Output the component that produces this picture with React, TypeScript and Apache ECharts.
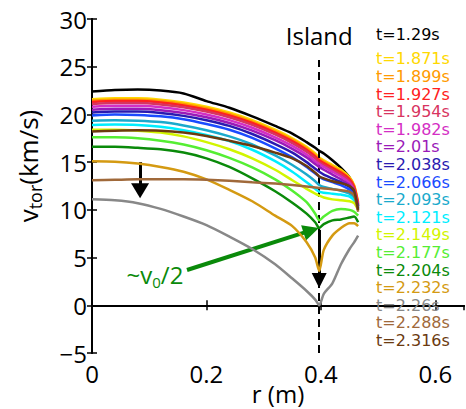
import React, { useEffect, useRef } from 'react';
import * as echarts from 'echarts';

const R = [0, 0.04, 0.08, 0.12, 0.16, 0.2, 0.24, 0.28, 0.32, 0.35, 0.375, 0.39, 0.397, 0.405, 0.42, 0.435, 0.45, 0.458, 0.465];

const times = ['t=1.29s', 't=1.871s', 't=1.899s', 't=1.927s', 't=1.954s', 't=1.982s', 't=2.01s', 't=2.038s', 't=2.066s', 't=2.093s', 't=2.121s', 't=2.149s', 't=2.177s', 't=2.204s', 't=2.232s', 't=2.26s', 't=2.288s', 't=2.316s'];
const colors = ['#000000', '#FFD800', '#FF9A00', '#FF2020', '#D8345F', '#D42EC4', '#9A1AB8', '#2A1AB0', '#1A4BFF', '#1AAACC', '#00EEFF', '#D2F500', '#55EE33', '#0A8A0A', '#D49A12', '#888888', '#A0693A', '#6B3A0F'];

const v1290 = [22.4, 22.55, 22.6, 22.5, 22.2, 21.4, 20.7, 19.8, 18.8, 18.0, 17.1, 16.5, 16.2, 15.9, 15.2, 14.4, 13.4, 12.3, 10.4];
const v1871 = [21.6, 21.7, 21.7, 21.55, 21.25, 20.8, 20.2, 19.4, 18.4, 17.5, 16.6, 15.9, 15.5, 15.2, 14.7, 14.2, 13.4, 12.6, 10.8];
const v1899 = [21.45, 21.55, 21.55, 21.4, 21.1, 20.65, 20.05, 19.25, 18.25, 17.35, 16.45, 15.75, 15.35, 15.05, 14.55, 14.05, 13.3, 12.5, 10.7];
const v1927 = [21.3, 21.4, 21.4, 21.25, 20.95, 20.5, 19.9, 19.1, 18.1, 17.2, 16.3, 15.6, 15.2, 14.9, 14.4, 13.9, 13.2, 12.4, 10.6];
const v1954 = [21.1, 21.2, 21.2, 21.05, 20.75, 20.3, 19.7, 18.9, 17.9, 17.0, 16.1, 15.4, 15.0, 14.7, 14.2, 13.7, 13.0, 12.2, 10.5];
const v1982 = [20.8, 20.9, 20.9, 20.75, 20.45, 20.0, 19.4, 18.6, 17.6, 16.7, 15.8, 15.1, 14.8, 14.5, 14.0, 13.5, 12.8, 12.0, 10.4];
const v2010 = [20.5, 20.6, 20.6, 20.45, 20.15, 19.7, 19.1, 18.3, 17.3, 16.4, 15.5, 14.8, 14.5, 14.2, 13.7, 13.2, 12.6, 11.9, 10.3];
const v2038 = [20.2, 20.3, 20.3, 20.15, 19.85, 19.4, 18.8, 17.95, 16.9, 16.0, 15.0, 14.3, 14.0, 13.7, 13.3, 12.9, 12.4, 11.7, 10.2];
const v2066 = [19.9, 20.0, 19.95, 19.8, 19.5, 19.0, 18.4, 17.55, 16.45, 15.5, 14.5, 13.8, 13.5, 13.2, 12.9, 12.6, 12.1, 11.5, 10.2];
const v2093 = [19.35, 19.4, 19.35, 19.2, 18.85, 18.35, 17.7, 16.85, 15.7, 14.7, 13.7, 13.0, 12.6, 12.4, 12.2, 12.0, 11.7, 11.2, 10.1];
const v2121 = [18.9, 18.95, 18.9, 18.7, 18.35, 17.85, 17.2, 16.3, 15.1, 14.0, 12.9, 12.2, 11.9, 11.8, 11.7, 11.6, 11.4, 11.0, 10.1];
const v2149 = [18.4, 18.4, 18.3, 18.1, 17.7, 17.1, 16.35, 15.4, 14.2, 13.1, 12.2, 11.7, 11.5, 11.3, 11.1, 11.0, 10.9, 10.7, 10.0];
const v2177 = [17.6, 17.6, 17.5, 17.25, 16.85, 16.25, 15.45, 14.45, 13.2, 12.0, 10.8, 9.6, 8.9, 9.3, 9.9, 10.1, 10.0, 9.8, 9.4];
const v2204 = [16.6, 16.6, 16.5, 16.35, 16.0, 15.4, 14.5, 13.3, 11.95, 10.75, 9.6, 8.7, 8.1, 8.5, 8.9, 9.0, 9.2, 9.3, 8.7];
const v2232 = [15.1, 15.05, 14.85, 14.5, 14.0, 13.2, 12.1, 10.9, 9.4, 8.3, 6.6, 5.0, 3.6, 5.8, 7.3, 8.1, 8.6, 8.6, 8.3];
const v2260 = [11.1, 11.0, 10.7, 10.1, 9.3, 8.4, 7.2, 5.9, 4.3, 2.8, 1.5, 0.6, 0.0, 1.2, 2.3, 4.3, 5.9, 6.6, 7.3];
const v2288 = [13.1, 13.15, 13.2, 13.2, 13.2, 13.15, 13.05, 12.9, 12.75, 12.6, 12.45, 12.35, 12.3, 12.25, 12.15, 12.05, 11.9, 11.5, 9.8];
const v2316 = [18.2, 18.3, 18.35, 18.3, 18.1, 17.75, 17.25, 16.7, 16.0, 15.4, 14.6, 13.9, 13.5, 13.3, 13.0, 12.8, 12.5, 12.0, 10.0];

const profiles = [v1290, v1871, v1899, v1927, v1954, v1982, v2010, v2038, v2066, v2093, v2121, v2149, v2177, v2204, v2232, v2260, v2288, v2316];

const islandR = 0.397;
const yTicks = [-5, 0, 5, 10, 15, 20, 25, 30];
const xTicks = [0, 0.2, 0.4, 0.6];

const FONT = 'Open Sans';
const LEGEND_FONT = 'DejaVu Sans';

export default function App() {
  const ref = useRef<HTMLDivElement>(null);
  useEffect(() => {
    if (!ref.current) return;
    const chart = echarts.init(ref.current, null, { renderer: 'svg' });
    const series: any[] = profiles.map((vals, i) => ({
      name: times[i],
      type: 'line',
      data: R.map((r, j) => [r, vals[j]]),
      showSymbol: false,
      smooth: 0.25,
      lineStyle: { color: colors[i], width: 2.5 },
      itemStyle: { color: colors[i] },
      z: 2 + i,
    }));
    series.push({
      name: 'annot',
      type: 'line',
      data: [],
      z: 40,
      markLine: {
        silent: true,
        animation: false,
        label: { show: false },
        symbol: ['none', 'none'],
        data: [
          [{ coord: [islandR, -5], lineStyle: { color: '#000', width: 2, type: [8, 5] } }, { coord: [islandR, 25.7] }],
          [{ coord: [0, 0], lineStyle: { color: '#000', width: 2, type: 'solid' } }, { coord: [0.465, 0] }],
          [
            { coord: [0.084, 15.0], symbol: 'none', lineStyle: { color: '#000', width: 3, type: 'solid' } },
            { coord: [0.084, 12.0], symbol: 'triangle', symbolSize: [18, 15] },
          ],
          [
            { coord: [islandR, 7.9], symbol: 'none', lineStyle: { color: '#000', width: 3, type: 'solid' } },
            { coord: [islandR, 2.6], symbol: 'triangle', symbolSize: [15, 15] },
          ],
          [
            { coord: [0.166, 3.7], symbol: 'none', lineStyle: { color: '#0A8A0A', width: 4, type: 'solid' } },
            { coord: [0.383, 7.85], symbol: 'triangle', symbolSize: [16, 16], itemStyle: { color: '#0A8A0A' } },
          ],
        ],
      },
      markPoint: {
        silent: true,
        animation: false,
        symbolSize: 0,
        data: [
          {
            coord: [islandR, 28.3],
            label: { show: true, position: 'inside', formatter: 'Island', color: '#000', fontSize: 24, fontFamily: FONT },
          },
          {
            coord: [0.11, 3.2],
            label: {
              show: true,
              position: 'inside',
              formatter: '{a|~v}{b|0}{a|/2}',
              rich: {
                a: { color: '#0A8A0A', fontSize: 24, fontFamily: FONT, lineHeight: 30 },
                b: { color: '#0A8A0A', fontSize: 15, fontFamily: FONT, lineHeight: 18, verticalAlign: 'bottom' },
              },
            },
          },
        ],
      },
    });

    const legendRest = times.slice(1).map((t, i) => ({ name: t, textStyle: { color: colors[i + 1] } }));
    const legendCommon = {
      left: 371, orient: 'vertical', itemWidth: 0, itemHeight: 0, itemGap: 0, padding: 0,
      selectedMode: false, icon: 'rect',
      itemStyle: { opacity: 0 }, lineStyle: { opacity: 0, width: 0 },
      textStyle: { fontSize: 16, fontFamily: LEGEND_FONT, lineHeight: 17.6 },
    };

    chart.setOption({
      animation: false,
      backgroundColor: '#fff',
      grid: { left: 92, top: 19, right: 2, bottom: 56, containLabel: false, outerBoundsMode: 'none' },
      legend: [
        { ...legendCommon, top: 26, data: [{ name: times[0], textStyle: { color: colors[0] } }] },
        { ...legendCommon, top: 50, data: legendRest },
      ],
      xAxis: [
        {
          type: 'value', min: 0, max: 0.65, interval: 0.2, position: 'bottom',
          name: 'r (m)', nameLocation: 'middle', nameGap: 28, nameMoveOverlap: false,
          nameTextStyle: { color: '#000', fontSize: 24, fontFamily: FONT },
          axisLine: { show: true, lineStyle: { color: '#000', width: 2 } },
          axisTick: { show: true, inside: true, length: 5, lineStyle: { color: '#000', width: 1.5 } },
          axisLabel: {
            color: '#000', fontSize: 24, fontFamily: FONT, margin: 8, showMaxLabel: false,
            formatter: (v: number) => (xTicks.some((t) => Math.abs(t - v) < 1e-9) ? String(Math.round(v * 10) / 10) : ''),
          },
          splitLine: { show: false },
        },
        {
          type: 'value', min: 0, max: 0.65, interval: 0.2, position: 'top',
          axisLine: { show: true, lineStyle: { color: '#000', width: 2 } },
          axisTick: { show: true, inside: true, length: 5, lineStyle: { color: '#000', width: 1.5 } },
          axisLabel: { show: false },
          splitLine: { show: false },
        },
      ],
      yAxis: [
        {
          type: 'value', min: -5, max: 30, interval: 5, position: 'left',
          axisLine: { show: true, lineStyle: { color: '#000', width: 2 } },
          axisTick: { show: true, inside: true, length: 5, lineStyle: { color: '#000', width: 1.5 } },
          axisLabel: {
            color: '#000', fontSize: 24, fontFamily: FONT, margin: 5,
            formatter: (v: number) => (yTicks.includes(v) ? (v < 0 ? '\u2212' + Math.abs(v) : String(v)) : ''),
          },
          splitLine: { show: false },
        },
        {
          type: 'value', min: -5, max: 30, interval: 5, position: 'right',
          axisLine: { show: true, lineStyle: { color: '#000', width: 2 } },
          axisTick: { show: true, inside: true, length: 5, lineStyle: { color: '#000', width: 1.5 } },
          axisLabel: { show: false },
          splitLine: { show: false },
        },
      ],
      graphic: [
        {
          type: 'text',
          x: 28,
          y: 166,
          rotation: Math.PI / 2,
          style: {
            text: '{a|v}{b|tor}{a|(km/s)}',
            align: 'center',
            verticalAlign: 'middle',
            rich: {
              a: { fill: '#000', fontSize: 26, fontFamily: FONT, lineHeight: 32 },
              b: { fill: '#000', fontSize: 18, fontFamily: FONT, lineHeight: 20, verticalAlign: 'bottom' },
            },
          },
        },
      ],
      series,
    });
    return () => chart.dispose();
  }, []);
  return <div ref={ref} style={{ width: 466, height: 409, position: 'absolute', left: 0, top: 0 }} />;
}
